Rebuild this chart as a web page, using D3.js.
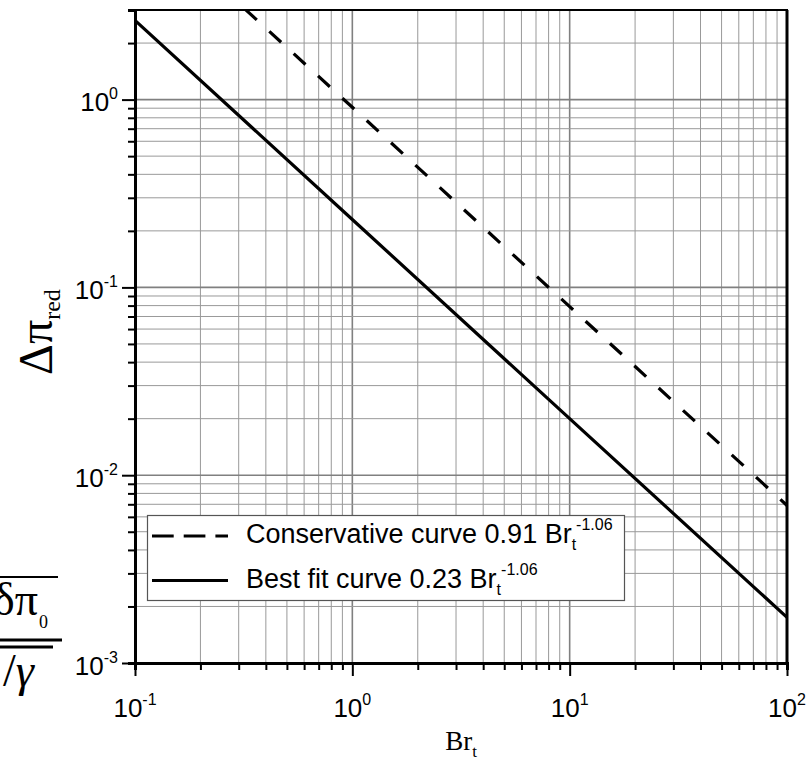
<!DOCTYPE html>
<html>
<head>
<meta charset="utf-8">
<script src="https://cdn.jsdelivr.net/npm/d3@7"></script>
<style>
  body { margin: 0; background: #fff; }
  svg { display: block; }
  .tick text { display: none; }
</style>
</head>
<body>
<div id="chart"></div>
<script>
// values
var brT = [0.1, 1, 10, 100];
var conservative = [10.4, 0.91, 0.079, 0.0069];
var bestFit = [2.64, 0.23, 0.020, 0.00175];
var xMajor = [0.1, 1, 10, 100];
var yMajor = [0.001, 0.01, 0.1, 1];
var xTickLabels = ["-1", "0", "1", "2"];
var yTickLabels = ["-3", "-2", "-1", "0"];
var legendNames = ["Conservative curve 0.91 Br", "Best fit curve 0.23 Br"];

var W = 810, H = 762;
var LEFT = 135, RIGHT = 787, TOP = 10, BOTTOM = 663;

var svg = d3.select("#chart").append("svg")
    .attr("width", W)
    .attr("height", H);

var x = d3.scaleLog().domain([0.1, 100]).range([LEFT, RIGHT]);
var y = d3.scaleLog().domain([0.001, 3]).range([BOTTOM, TOP]);

var xAll = x.ticks();
var yAll = y.ticks();

function isMajor(v){
    var l = Math.log10(v);
    return Math.abs(l - Math.round(l)) < 1e-9;
}

// grid
var grid = svg.append("g").attr("class", "grid");
grid.selectAll("line.gx").data(xAll).enter().append("line")
    .attr("x1", function(d){ return x(d); })
    .attr("x2", function(d){ return x(d); })
    .attr("y1", TOP).attr("y2", BOTTOM)
    .attr("stroke", function(d){ return isMajor(d) ? "#808080" : "#999"; })
    .attr("stroke-width", function(d){ return isMajor(d) ? 1.6 : 1; });
grid.selectAll("line.gy").data(yAll).enter().append("line")
    .attr("y1", function(d){ return y(d); })
    .attr("y2", function(d){ return y(d); })
    .attr("x1", LEFT).attr("x2", RIGHT)
    .attr("stroke", function(d){ return isMajor(d) ? "#808080" : "#999"; })
    .attr("stroke-width", function(d){ return isMajor(d) ? 1.6 : 1; });

// curves
svg.append("clipPath").attr("id", "plotclip")
    .append("rect")
    .attr("x", LEFT).attr("y", TOP)
    .attr("width", RIGHT - LEFT).attr("height", BOTTOM - TOP);

var line = d3.line()
    .x(function(d){ return x(d[0]); })
    .y(function(d){ return y(d[1]); });

svg.append("path")
    .datum(d3.zip(brT, conservative))
    .attr("clip-path", "url(#plotclip)")
    .attr("d", line)
    .attr("fill", "none")
    .attr("stroke", "#000")
    .attr("stroke-width", 3.2)
    .attr("stroke-dasharray", "16,17")
    .attr("stroke-dashoffset", 16);

svg.append("path")
    .datum(d3.zip(brT, bestFit))
    .attr("clip-path", "url(#plotclip)")
    .attr("d", line)
    .attr("fill", "none")
    .attr("stroke", "#000")
    .attr("stroke-width", 3.2);

// axes
var axisLeft = d3.axisLeft(y).tickValues(yAll).tickSizeOuter(0)
    .tickSize(7);
var gy = svg.append("g").attr("transform", "translate(" + LEFT + ",0)").call(axisLeft);
gy.selectAll(".tick line")
    .attr("x2", function(d){ return isMajor(d) ? -13 : -7; })
    .attr("stroke-width", 2);
gy.select(".domain").attr("stroke-width", 3);

var axisBottom = d3.axisBottom(x).tickValues(xAll).tickSizeOuter(0)
    .tickSize(7);
var gx = svg.append("g").attr("transform", "translate(0," + BOTTOM + ")").call(axisBottom);
gx.selectAll(".tick line")
    .attr("y2", function(d){ return isMajor(d) ? 13 : 7; })
    .attr("stroke-width", 2);
gx.select(".domain").attr("stroke-width", 3);

// frame on top and right
svg.append("line").attr("x1", LEFT).attr("x2", RIGHT + 1)
    .attr("y1", TOP).attr("y2", TOP)
    .attr("stroke", "#000").attr("stroke-width", 2);
svg.append("line").attr("x1", RIGHT).attr("x2", RIGHT)
    .attr("y1", TOP).attr("y2", BOTTOM + 1)
    .attr("stroke", "#000").attr("stroke-width", 3);

// tick labels
var labelFont = "Arial, 'Liberation Sans', sans-serif";
var xl = svg.append("g").attr("font-family", labelFont).attr("fill", "#000");
xl.selectAll("text").data(xMajor).enter().append("text")
    .attr("x", function(d){ return x(d); })
    .attr("y", 717)
    .attr("text-anchor", "middle")
    .attr("font-size", 26)
    .each(function(d, i){
        var t = d3.select(this);
        t.append("tspan").text("10");
        t.append("tspan").attr("dy", -12).attr("font-size", 16).text(xTickLabels[i]);
    });

var yl = svg.append("g").attr("font-family", labelFont).attr("fill", "#000");
yl.selectAll("text").data(yMajor).enter().append("text")
    .attr("x", 118)
    .attr("y", function(d){ return y(d) + 11.5; })
    .attr("text-anchor", "end")
    .attr("font-size", 26)
    .each(function(d, i){
        var t = d3.select(this);
        t.append("tspan").text("10");
        t.append("tspan").attr("dy", -12).attr("font-size", 16).text(yTickLabels[i]);
    });

// axis titles
var serif = "'Times New Roman', 'Liberation Serif', serif";
var xt = svg.append("text")
    .attr("x", (LEFT + RIGHT) / 2)
    .attr("y", 750)
    .attr("text-anchor", "middle")
    .attr("font-family", serif)
    .attr("font-size", 27);
xt.append("tspan").text("Br");
xt.append("tspan").attr("dy", 7).attr("font-size", 17).text("t");

var yt = svg.append("text")
    .attr("transform", "translate(52,332) rotate(-90)")
    .attr("text-anchor", "middle")
    .attr("font-family", serif)
    .attr("font-size", 48);
yt.append("tspan").text("\u0394\u03c0");
yt.append("tspan").attr("dy", 8).attr("font-size", 24).text("red");

// legend
var legend = svg.append("g");
legend.append("rect")
    .attr("x", 147.5).attr("y", 515.5)
    .attr("width", 477).attr("height", 85)
    .attr("fill", "#fff")
    .attr("stroke", "#555")
    .attr("stroke-width", 1.2);

var legendRows = legend.selectAll("g.row").data(legendNames).enter().append("g")
    .attr("transform", function(d, i){ return "translate(0," + (536 + i * 44.5) + ")"; });
legendRows.append("line")
    .attr("x1", 152).attr("x2", 228)
    .attr("y1", 0).attr("y2", 0)
    .attr("stroke", "#000")
    .attr("stroke-width", 3.2)
    .attr("stroke-dasharray", function(d, i){ return i === 0 ? "21.7,10" : null; });
legendRows.append("text")
    .attr("x", 246)
    .attr("y", 7)
    .attr("font-family", labelFont)
    .attr("font-size", 27)
    .each(function(d){
        var t = d3.select(this);
        t.append("tspan").text(d);
        t.append("tspan").attr("dy", 7).attr("font-size", 16).text("t");
        t.append("tspan").attr("dy", -20).attr("font-size", 16).text("-1.06");
    });

// pieces of the neighbouring equation cut by the page edge
var eq = svg.append("g").attr("font-family", serif).attr("fill", "#000");
eq.append("text").attr("x", -19).attr("y", 422)
    .attr("font-size", 40).text(")");
eq.append("line").attr("x1", 0).attr("x2", 58).attr("y1", 577).attr("y2", 577)
    .attr("stroke", "#000").attr("stroke-width", 2);
eq.append("text").attr("x", 38).attr("y", 615)
    .attr("text-anchor", "end")
    .attr("font-size", 46).text("\u03b4\u03c0");
eq.append("text").attr("x", 39).attr("y", 628)
    .attr("font-size", 18).text("0");
eq.append("line").attr("x1", 0).attr("x2", 62).attr("y1", 640).attr("y2", 640)
    .attr("stroke", "#000").attr("stroke-width", 3);
eq.append("line").attr("x1", 0).attr("x2", 53).attr("y1", 647).attr("y2", 647)
    .attr("stroke", "#000").attr("stroke-width", 3);
eq.append("text").attr("x", 3).attr("y", 686)
    .attr("font-size", 46)
    .each(function(){
        var t = d3.select(this);
        t.append("tspan").text("/");
        t.append("tspan").attr("font-style", "italic").text("\u03b3");
    });
</script>
</body>
</html>
